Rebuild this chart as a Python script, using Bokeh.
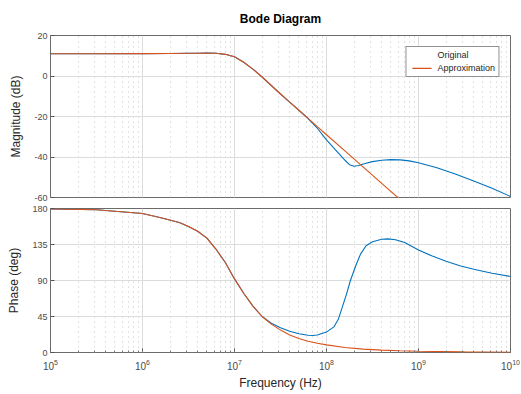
from bokeh.plotting import figure
from bokeh.layouts import column
from bokeh.models import Range1d, FixedTicker, Legend, LegendItem, PrintfTickFormatter
from bokeh.embed import file_html
from bokeh.resources import INLINE

# ---------------- data ----------------
# frequencies given as log10(Hz)
orig_mag_logf = [5.0, 5.5, 6.0, 6.3, 6.5, 6.6, 6.7, 6.8, 6.9, 7.0, 7.1, 7.2, 7.3, 7.4, 7.5,
                 7.6, 7.7, 7.8, 7.9, 8.0, 8.1, 8.2, 8.25, 8.3, 8.35, 8.42, 8.5, 8.6, 8.7,
                 8.8, 8.9, 9.0, 9.2, 9.4, 9.6, 9.8, 10.0]
orig_mag_db = [11.0, 11.0, 11.05, 11.1, 11.2, 11.25, 11.3, 11.2, 10.7, 9.5, 6.8, 3.4, -0.5,
               -4.7, -8.9, -12.9, -16.9, -21.0, -25.8, -31.5, -36.6, -41.6, -43.8, -44.6,
               -44.2, -43.2, -42.3, -41.6, -41.3, -41.4, -41.9, -42.8, -45.3, -48.4, -51.8,
               -55.4, -59.5]

approx_mag_logf = [5.0, 5.5, 6.0, 6.3, 6.5, 6.6, 6.7, 6.8, 6.9, 7.0, 7.1, 7.2, 7.3, 7.4, 7.5,
                   7.6, 7.7, 7.8, 7.9, 8.0, 8.2, 8.4, 8.6, 8.8]
approx_mag_db = [11.0, 11.0, 11.05, 11.1, 11.2, 11.25, 11.3, 11.2, 10.7, 9.5, 6.8, 3.4, -0.5,
                 -4.7, -8.9, -12.9, -16.9, -20.9, -25.0, -29.0, -37.0, -45.0, -53.0, -61.0]

orig_ph_logf = [5.0, 5.5, 6.0, 6.2, 6.4, 6.5, 6.6, 6.7, 6.8, 6.9, 7.0, 7.1, 7.2, 7.3, 7.4,
                7.5, 7.6, 7.7, 7.8, 7.85, 7.9, 8.0, 8.08, 8.13, 8.17, 8.22, 8.26, 8.32, 8.37,
                8.43, 8.5, 8.6, 8.67, 8.75, 8.85, 9.0, 9.15, 9.3, 9.45, 9.6, 9.8, 10.0]
orig_ph_deg = [179.5, 178.5, 173.7, 168.5, 162.5, 157.5, 151.5, 143.0, 129.0, 112.5, 92.0,
               74.0, 58.0, 45.0, 36.5, 31.0, 26.5, 23.5, 21.6, 21.3, 21.8, 25.5, 32.0, 42.0,
               56.0, 74.0, 90.0, 109.0, 123.0, 133.5, 138.5, 141.5, 142.0, 141.0, 137.5,
               128.0, 120.5, 114.0, 108.5, 104.0, 99.0, 95.0]

approx_ph_logf = [5.0, 5.5, 6.0, 6.2, 6.4, 6.5, 6.6, 6.7, 6.8, 6.9, 7.0, 7.1, 7.2, 7.3, 7.4,
                  7.5, 7.6, 7.7, 7.8, 7.9, 8.0, 8.2, 8.4, 8.6, 8.8, 9.0, 9.5, 10.0]
approx_ph_deg = [179.5, 178.5, 173.7, 168.5, 162.5, 157.5, 151.5, 143.0, 129.0, 112.5, 92.0,
                 74.0, 58.0, 45.0, 35.5, 28.0, 22.0, 17.5, 14.0, 11.5, 9.5, 6.3, 4.2, 3.0,
                 2.2, 1.6, 0.8, 0.4]

mag_ticks = [-60, -40, -20, 0, 20]
phase_ticks = [0, 45, 90, 135, 180]

series_names = ["Original", "Approximation"]
series_colors = ["#0072BD", "#D95319"]


def hz(logs):
    return [10.0 ** v for v in logs]


NAN = float("nan")
FONT = "Liberation Sans"


def style(p, yticks):
    p.background_fill_color = "white"
    p.border_fill_color = "white"
    p.outline_line_color = "#6b6b6b"
    p.outline_line_width = 1
    p.xgrid.grid_line_color = "#dcdcdc"
    p.ygrid.grid_line_color = "#dcdcdc"
    p.xgrid.minor_grid_line_color = "#c4c4c4"
    p.xgrid.minor_grid_line_dash = "1 4"
    p.yaxis.ticker = FixedTicker(ticks=yticks)
    p.yaxis.formatter = PrintfTickFormatter(format="%d")
    for ax in p.axis:
        ax.axis_line_color = None
        ax.major_tick_in = 4
        ax.major_tick_out = 0
        ax.minor_tick_in = 2
        ax.minor_tick_out = 0
        ax.major_tick_line_color = "#555555"
        ax.minor_tick_line_color = "#777777"
        ax.major_label_text_font = FONT
        ax.major_label_text_font_size = "9px"
        ax.major_label_text_color = "#4a4a4a"
        ax.major_label_standoff = 3
        ax.axis_label_text_font = FONT
        ax.axis_label_text_font_size = "12px"
        ax.axis_label_text_font_style = "normal"
        ax.axis_label_text_color = "#262626"
        ax.axis_label_standoff = 8
    p.yaxis.minor_tick_line_color = None


x_range = Range1d(1e5, 1e10)

p1 = figure(width=521, height=202, x_axis_type="log", x_range=x_range,
            y_range=Range1d(-60, 20), output_backend="svg", toolbar_location=None,
            min_border_left=50, min_border_right=11, min_border_top=35, min_border_bottom=5)
style(p1, mag_ticks)
p1.xaxis.visible = False
p1.yaxis.axis_label = "Magnitude (dB)"
p1.title.text = "Bode Diagram"
p1.title.align = "center"
p1.title.text_font = FONT
p1.title.text_font_size = "12px"
p1.title.text_font_style = "bold"
p1.title.text_color = "#000000"
if "standoff" in p1.title.properties():
    p1.title.standoff = 19

p1.line(hz(orig_mag_logf), orig_mag_db, line_color=series_colors[0], line_width=1.1)
p1.line(hz(approx_mag_logf), approx_mag_db, line_color=series_colors[1], line_width=1.1)
# invisible proxies used only for the legend entries
r_leg_orig = p1.quad(left=[NAN], right=[NAN], bottom=[NAN], top=[NAN],
                     fill_color="white", fill_alpha=0.0, line_alpha=0.0)
r_leg_appr = p1.quad(left=[NAN], right=[NAN], bottom=[NAN], top=[NAN],
                     fill_color=series_colors[1], line_color=None)

legend = Legend(items=[LegendItem(label=series_names[0], renderers=[r_leg_orig]),
                       LegendItem(label=series_names[1], renderers=[r_leg_appr])],
                location="top_right")
legend.margin = 11
legend.padding = 3
legend.spacing = 3
legend.label_height = 2
legend.glyph_height = 2
legend.glyph_width = 24
legend.label_standoff = 4
legend.label_text_font = FONT
legend.label_text_font_size = "9px"
legend.label_text_color = "#262626"
legend.border_line_color = "#262626"
legend.border_line_width = 1
legend.background_fill_color = "white"
legend.background_fill_alpha = 1.0
p1.add_layout(legend)

p2 = figure(width=521, height=192, x_axis_type="log", x_range=x_range,
            y_range=Range1d(0, 180), output_backend="svg", toolbar_location=None,
            min_border_left=50, min_border_right=11, min_border_top=6, min_border_bottom=42)
style(p2, phase_ticks)
p2.yaxis.axis_label = "Phase (deg)"
p2.xaxis.axis_label = "Frequency (Hz)"
p2.xaxis.major_label_text_font_size = "10px"
p2.xaxis.major_label_standoff = 6
p2.xaxis.axis_label_standoff = 3
p2.line(hz(orig_ph_logf), orig_ph_deg, line_color=series_colors[0], line_width=1.1)
p2.line(hz(approx_ph_logf), approx_ph_deg, line_color=series_colors[1], line_width=1.1)

layout = column(p1, p2, spacing=0)
open("out.html", "w").write(file_html(layout, INLINE))
